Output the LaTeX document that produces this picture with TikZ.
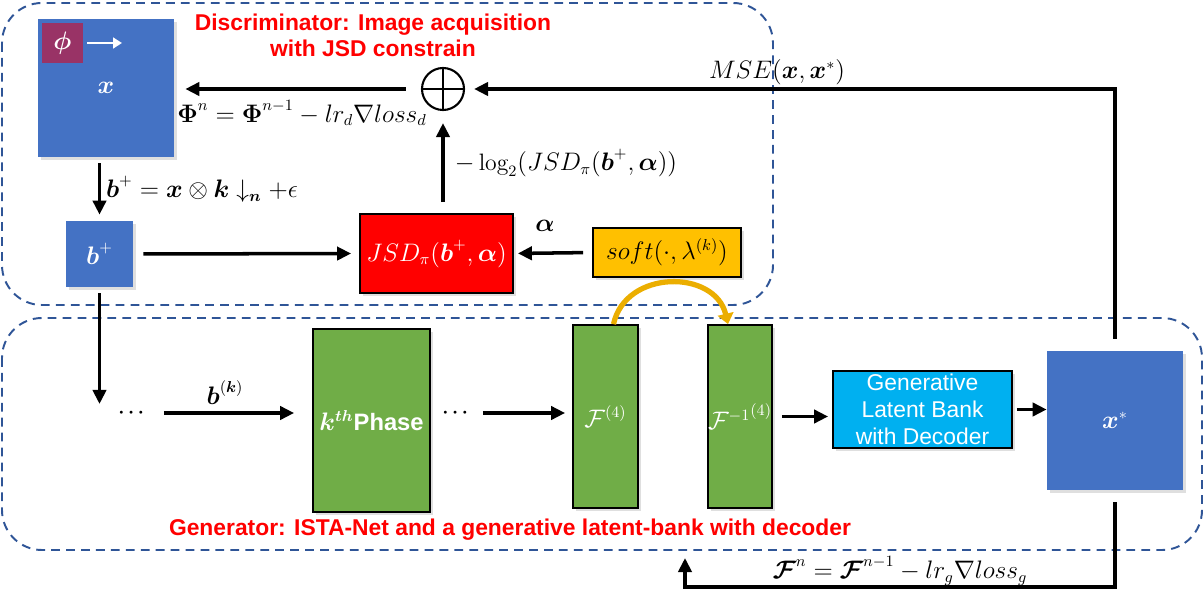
\documentclass[tikz,border=0pt]{standalone}
\usepackage{amsmath,amssymb}
\usepackage{fontspec}
\newfontfamily\arialfont{Liberation Sans}
\usepackage{tikz}
\usetikzlibrary{arrows.meta,positioning,shadows}

\definecolor{boxblue}{HTML}{4472C4}
\definecolor{phipurple}{HTML}{993366}
\definecolor{softgold}{HTML}{FFC000}
\definecolor{phasegreen}{HTML}{70AD47}
\definecolor{bankcyan}{HTML}{00B0F0}
\definecolor{frameblue}{HTML}{2F5597}
\definecolor{arcgold}{HTML}{EBAE00}

\tikzset{
  arr/.style={line width=2pt,-{Triangle[length=8pt,width=7.5pt]}},
  framebox/.style={draw=frameblue,line width=1.1pt,dash pattern=on 5pt off 3.5pt,rounded corners=0.8cm},
  softshadow/.style={drop shadow={opacity=0.25,shadow xshift=1.5pt,shadow yshift=-1.5pt}},
  imgbox/.style={fill=boxblue,text=white,inner sep=0pt,softshadow,font=\fontsize{13.5}{15}\selectfont},
  opbox/.style={draw=black,line width=1pt,inner sep=0pt,softshadow,font=\fontsize{13.5}{15}\selectfont},
  lbl/.style={font=\fontsize{13.5}{15}\selectfont},
  titletext/.style={text=red,align=center,font=\arialfont\bfseries\fontsize{13}{14.7}\selectfont},
}

\begin{document}
\begin{tikzpicture}[x=0.02cm,y=-0.02cm]
\useasboundingbox (0,0) rectangle (1204,591);

% dashed frames
\draw[framebox] (2,3) rectangle (773,305);
\draw[framebox] (2,318) rectangle (1202,550);

\node[titletext] (disctitle) at (373,35) {Discriminator: Image acquisition\\with JSD constrain};
\node[titletext] (gentitle) at (510,530) {Generator: ISTA-Net and a generative latent-bank with decoder};

% discriminator part
\node[imgbox,minimum width=2.72cm,minimum height=2.76cm] (xbox) at (106,88) {$\boldsymbol{x}$};
\node[fill=phipurple,text=white,inner sep=0pt,minimum width=0.82cm,minimum height=0.8cm,font=\fontsize{13.5}{15}\selectfont] (phi) at (62.5,43) {$\boldsymbol{\phi}$};
\coordinate (phiend) at (122,43);
\draw[white,line width=1.5pt,-{Triangle[length=5pt,width=6pt]}] ([xshift=0.08cm]phi.east) -- (phiend);

\node[circle,draw,line width=1.2pt,minimum size=0.84cm,inner sep=0pt,
  path picture={\draw[line width=1.2pt] (path picture bounding box.north) -- (path picture bounding box.south)
    (path picture bounding box.west) -- (path picture bounding box.east);}] (oplus) at (443,89) {};

\node[imgbox,minimum width=1.34cm,minimum height=1.32cm] (bplus) at (99.5,254) {$\boldsymbol{b}^+$};
\node[opbox,fill=red,text=white,minimum width=3.06cm,minimum height=1.58cm] (jsd) at (436.5,253.5) {$JSD_\pi(\boldsymbol{b}^+,\boldsymbol{\alpha})$};
\node[opbox,fill=softgold,minimum width=2.96cm,minimum height=0.98cm] (soft) at (667,252.5) {$soft(\cdot,\lambda^{(k)})$};

% generator part
\coordinate (kin) at (99.5,404);
\node[inner sep=0pt,font=\fontsize{11}{13}\selectfont] (dotsa) at (133,413) {$\boldsymbol{\cdots}$};
\node[opbox,fill=phasegreen,text=white,minimum width=2.34cm,minimum height=3.66cm] (kphase) at (371.5,420.5) {$\boldsymbol{k^{th}}${\arialfont\bfseries Phase}};
\node[inner sep=0pt,font=\fontsize{11}{13}\selectfont] (dotsb) at (457,413) {$\boldsymbol{\cdots}$};
\node[opbox,fill=phasegreen,text=white,minimum width=1.3cm,minimum height=3.66cm] (f4) at (605.5,416.5) {$\mathcal{F}^{(4)}$};
\node[opbox,fill=phasegreen,text=white,minimum width=1.28cm,minimum height=3.66cm] (finv) at (740,416.5) {${\mathcal{F}^{-1}}^{(4)}$};
\node[opbox,fill=bankcyan,text=white,align=center,minimum width=3.58cm,minimum height=1.54cm,
  font=\arialfont\fontsize{13}{15.5}\selectfont] (latent) at (922.5,409.5) {Generative\\Latent Bank\\with Decoder};
\node[imgbox,minimum width=2.72cm,minimum height=2.78cm] (xstar) at (1115,420.5) {$\boldsymbol{x}^*$};
\coordinate (fbcorner) at (685,587);
\coordinate (genin) at (685,558);

% connectors
\draw[arr,shorten <=0.3cm,shorten >=0.22cm] (oplus.west) -- (oplus.west -| xbox.east);
\draw[arr,shorten <=0.24cm,shorten >=0.18cm] (xstar.north) |- (oplus.east);
\draw[arr,shorten <=0.12cm,shorten >=0.12cm] (bplus.north |- xbox.south) -- (bplus.north);
\draw[arr,shorten <=0.2cm,shorten >=0.16cm] (bplus.east) -- (jsd.west);
\draw[arr,shorten <=0.22cm,shorten >=0.24cm] (oplus.south |- jsd.north) -- (oplus.south);
\draw[arr,shorten <=0.18cm,shorten >=0.08cm] (soft.west) -- (jsd.east);
\draw[arr,shorten <=0.12cm] (bplus.south) -- (kin);
\draw[arr,shorten >=0.36cm] ([xshift=0.62cm]dotsa.center) -- (dotsa.center -| kphase.west);
\draw[arr,shorten >=0.14cm] ([xshift=0.52cm]dotsb.center) -- (dotsb.center -| f4.west);
\draw[arcgold,line width=3pt,-{Triangle[length=6pt,width=9pt]}] ([xshift=0.16cm]f4.north)
  .. controls +(12,-55) and +(-13,-55) .. ([xshift=-0.24cm]finv.north);
\draw[arr,shorten <=0.18cm,shorten >=0.08cm] (finv.east) -- (finv.east -| latent.west);
\draw[arr,shorten <=0.08cm] (latent.east) -- (latent.east -| xstar.west);
\draw[arr,shorten <=0.24cm] (xstar.south) |- (fbcorner) -- (genin);

% labels
\node[lbl] (philbl) at (302,113) {$\boldsymbol{\Phi}^n=\boldsymbol{\Phi}^{n-1}-lr_d\nabla loss_d$};
\node[lbl] (convlbl) at (202,189) {$\boldsymbol{b}^+=\boldsymbol{x}\otimes\boldsymbol{k}\downarrow_{\boldsymbol{n}}+\epsilon$};
\node[lbl] (loglbl) at (566,163) {$-\log_2(JSD_\pi(\boldsymbol{b}^+,\boldsymbol{\alpha}))$};
\node[lbl] (alphalbl) at (545,226) {$\boldsymbol{\alpha}$};
\node[lbl] (mselbl) at (777,72) {$MSE(\boldsymbol{x},\boldsymbol{x}^*)$};
\node[lbl] (bklbl) at (225,393) {$\boldsymbol{b}^{(\boldsymbol{k})}$};
\node[lbl] (gradlbl) at (900,571) {$\boldsymbol{\mathcal{F}}^n=\boldsymbol{\mathcal{F}}^{n-1}-lr_g\nabla loss_g$};
\end{tikzpicture}
\end{document}
